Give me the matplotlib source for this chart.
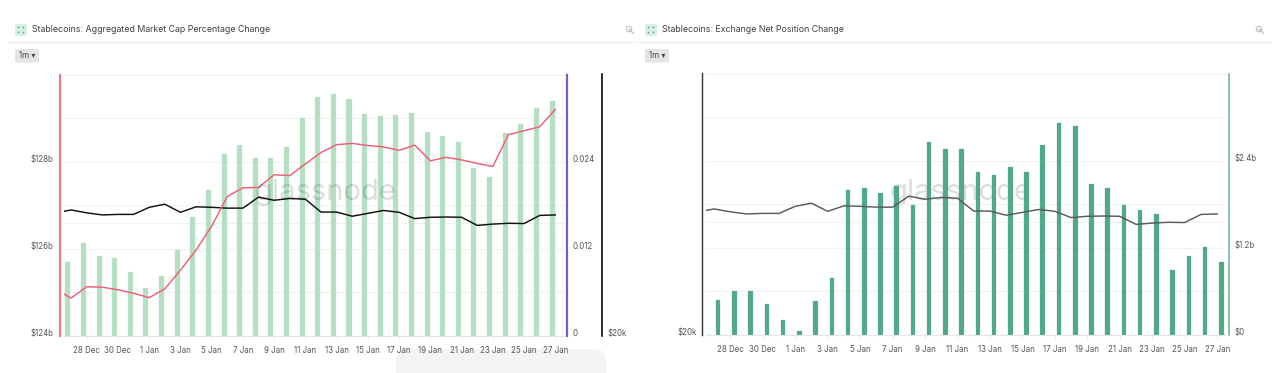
import numpy as np
import matplotlib
matplotlib.use("Agg")
import matplotlib.pyplot as plt
from matplotlib.patches import FancyBboxPatch, Circle

plt.rcParams["font.family"] = ["Inter", "DejaVu Sans"]

W, H = 1280, 373

# day index: 0 = 27 Dec, 31 = 27 Jan
days = np.arange(-1, 32)
bar_days = np.arange(0, 32)
tick_days = np.arange(1, 32, 2)
tick_labels = ["28 Dec", "30 Dec", "1 Jan", "3 Jan", "5 Jan", "7 Jan", "9 Jan", "11 Jan",
               "13 Jan", "15 Jan", "17 Jan", "19 Jan", "21 Jan", "23 Jan", "25 Jan", "27 Jan"]

market_cap = [125.07, 124.87, 125.13, 125.12, 125.06, 124.98, 124.88, 125.08, 125.51, 125.97, 126.52,
              127.20, 127.40, 127.41, 127.70, 127.68, 127.95, 128.21, 128.39, 128.42, 128.37, 128.34,
              128.26, 128.38, 128.02, 128.10, 128.04, 127.96, 127.89, 128.62, 128.71, 128.80, 129.20]
pct_change = [.01024, .0128, .01107, .01074, .00882, .00658, .00823, .01189, .01632, .02016, .0251,
              .02623, .02451, .02451, .02596, .03007, .03287, .03328, .0326, .03062, .03027, .0304,
              .03072, .02815, .02747, .0267, .02313, .0219, .02788, .02925, .0314, .03236]
price_k = [24.71, 24.82, 24.71, 24.63, 24.65, 24.65, 24.92, 25.04, 24.73, 24.94, 24.92, 24.89, 24.89,
           25.31, 25.19, 25.26, 25.23, 24.74, 24.74, 24.58, 24.69, 24.80, 24.73, 24.49, 24.54, 24.55,
           24.54, 24.23, 24.28, 24.31, 24.30, 24.61, 24.63]
net_position = [.48, .603, .603, .421, .206, .051, .466, .782, 1.998, 2.026, 1.957, 2.057, 1.792, 2.651,
                2.56, 2.56, 2.245, 2.204, 2.308, 2.245, 2.61, 2.925, 2.884, 2.085, 2.03, 1.787, 1.714,
                1.659, .891, 1.088, 1.207, 1.005]

cap_ticks = [124, 126, 128]
cap_labels = ["$124b", "$126b", "$128b"]
pct_ticks = [0, 0.012, 0.024]
pct_labels = ["0", "0.012", "0.024"]
net_ticks = [0, 1.2, 2.4]
net_labels = ["$0", "$1.2b", "$2.4b"]

TEXT = "#555555"
GRID = "#f1f1f1"
LABEL_SIZE = 5.7


def px_axes(fig, x0, x1, y0, y1):
    return fig.add_axes([x0 / W, 1 - y1 / H, (x1 - x0) / W, (y1 - y0) / H])


def style_axis(ax):
    for s in ax.spines.values():
        s.set_visible(False)
    ax.patch.set_alpha(0)


def color_spine(ax, side, color, offset_px, width_px):
    # set_position resets the ticks, so this has to come before y_labels
    sp = ax.spines[side]
    sp.set_visible(True)
    sp.set_position(("outward", offset_px * 0.72))
    sp.set_color(color)
    sp.set_linewidth(width_px * 0.72)


def y_labels(ax, ticks, labels, pad=4):
    ax.set_yticks(ticks, labels)
    ax.tick_params(axis="y", length=0, pad=pad, labelsize=LABEL_SIZE, labelcolor=TEXT)
    for lab in ax.get_yticklabels():
        lab.set_va("baseline")


def base_panel(ax, xlim, top, extra):
    ax.set_xlim(*xlim)
    ax.set_xticks(tick_days, tick_labels)
    ax.tick_params(axis="x", length=3, width=0.6, color="#e6e6e6", labelsize=LABEL_SIZE, labelcolor=TEXT, pad=4.5)
    ax.set_ylim(0, top)
    ax.set_yticks(extra, minor=True)
    ax.tick_params(axis="y", which="minor", length=0)
    ax.set_axisbelow(True)
    ax.spines["bottom"].set_visible(True)
    ax.spines["bottom"].set_color("#e6e6e6")
    ax.spines["top"].set_visible(True)
    ax.spines["top"].set_color("#eeeeee")


def header(canvas, x0, x1, title, icon_x, mag_x):
    canvas.add_patch(FancyBboxPatch((icon_x, 24), 12, 12, boxstyle="round,pad=0,rounding_size=1.5",
                                    fc="#d6f0e4", ec="none"))
    for dx, dy in [(3.5, 27.5), (8.5, 27.5), (3.5, 32.5), (8.5, 32.5)]:
        canvas.add_patch(Circle((icon_x + dx, dy), 0.9, fc="#6f9c8a", ec="none"))
    canvas.text(icon_x + 17, 29.5, title, fontsize=6.35, color="#3f3f3f", va="center", ha="left")
    canvas.plot([x0, x1], [41.5, 41.5], color="#eeeeee", lw=0.9)
    canvas.add_patch(FancyBboxPatch((icon_x, 49), 24, 13.5, boxstyle="round,pad=0,rounding_size=1.5",
                                    fc="#e4e4e4", ec="none"))
    canvas.text(icon_x + 12, 55.8, "1m ▾", fontsize=5.8, color="#444444", ha="center", va="center")
    canvas.add_patch(Circle((mag_x, 29), 2.8, fc="none", ec="#b5b5b5", lw=0.7))
    canvas.plot([mag_x + 2, mag_x + 4.5], [31, 33.5], color="#b5b5b5", lw=0.7)
    canvas.plot([mag_x - 1.3, mag_x + 1.3], [29, 29], color="#b5b5b5", lw=0.5)
    canvas.plot([mag_x, mag_x], [27.7, 30.3], color="#b5b5b5", lw=0.5)


fig = plt.figure(figsize=(W / 100, H / 100), dpi=100, facecolor="white")

# page furniture in pixel coordinates
canvas = fig.add_axes([0, 0, 1, 1])
canvas.set_xlim(0, W)
canvas.set_ylim(H, 0)
canvas.axis("off")
header(canvas, 8, 637, "Stablecoins: Aggregated Market Cap Percentage Change", 15, 629)
header(canvas, 640, 1271, "Stablecoins: Exchange Net Position Change", 645, 1259)
canvas.add_patch(FancyBboxPatch((396, 349), 210, 40, boxstyle="round,pad=0,rounding_size=12",
                                fc="#f4f4f4", ec="none"))

# left panel
ax = px_axes(fig, 64, 565, 74.5, 336)
style_axis(ax)
base_panel(ax, (-0.453, 31.62), 0.036, [0.006, 0.0155, 0.018, 0.030])
ax.bar(bar_days - 0.24, pct_change, width=0.26, color="#b5dfc3", edgecolor="#b5dfc3", lw=0.9,
       joinstyle="round", zorder=2)

ax_price = ax.twinx()
style_axis(ax_price)
ax_price.set_ylim(20, 30)
ax_price.plot(days, price_k, color="#111111", lw=1.05, zorder=3)
color_spine(ax_price, "right", "#000000", 37, 1.6)
y_labels(ax_price, [20], ["$20k"], pad=4)

ax_cap = ax.twinx()
style_axis(ax_cap)
ax_cap.set_ylim(124, 130)
ax_cap.plot(days, market_cap, color="#ee5f78", lw=1.05, zorder=4)
ax_cap.yaxis.tick_left()
color_spine(ax_cap, "left", "#f0788c", 4, 2.2)
y_labels(ax_cap, cap_ticks, cap_labels, pad=4.5)

# twinx moves the host axis ticks to the left, so set them after
ax.yaxis.tick_right()
color_spine(ax, "right", "#6f5fcb", 2, 2.2)
y_labels(ax, pct_ticks, pct_labels, pad=4)
ax.grid(axis="y", which="both", color=GRID, lw=0.8)

canvas2 = fig.add_axes([0, 0, 1, 1])
canvas2.set_xlim(0, W)
canvas2.set_ylim(H, 0)
canvas2.axis("off")
canvas2.text(325, 192, "glassnode", fontsize=21, color="#000000", alpha=0.13, ha="center", va="center")

# right panel
ax2 = px_axes(fig, 706, 1225, 73.5, 335)
style_axis(ax2)
base_panel(ax2, (-0.5, 31.48), 3.6, [0.6, 1.8, 3.0, 1.55])
ax2.bar(bar_days + 0.22, net_position, width=0.22, color="#52a985", edgecolor="#52a985", lw=0.9,
        joinstyle="round", zorder=2)

ax2_price = ax2.twinx()
style_axis(ax2_price)
ax2_price.set_ylim(20, 30)
ax2_price.plot(days, price_k, color="#5a5a5a", lw=1.05, zorder=3)
ax2_price.yaxis.tick_left()
color_spine(ax2_price, "left", "#333333", 4, 1.4)
y_labels(ax2_price, [20], ["$20k"], pad=4)

ax2.yaxis.tick_right()
color_spine(ax2, "right", "#62b08f", 3.7, 1.5)
y_labels(ax2, net_ticks, net_labels, pad=4)
ax2.grid(axis="y", which="both", color=GRID, lw=0.8)

canvas2.text(960, 192, "glassnode", fontsize=21, color="#000000", alpha=0.13, ha="center", va="center")

fig.savefig("out.png", dpi=100)
